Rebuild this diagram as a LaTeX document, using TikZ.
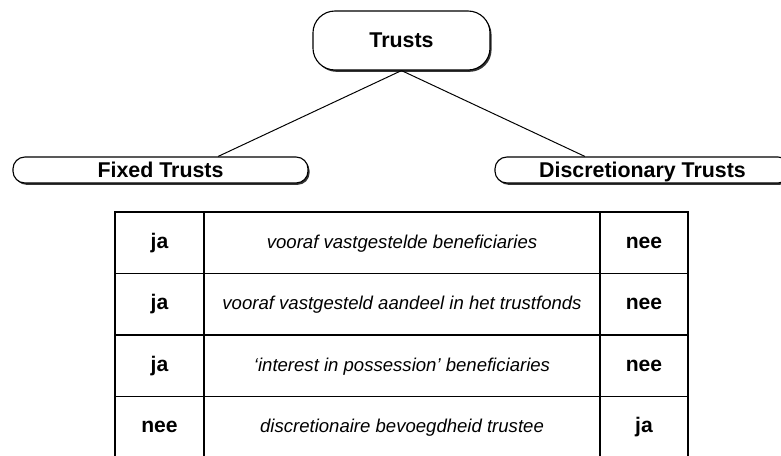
\documentclass[tikz,border=0pt]{standalone}
\usepackage{fontspec}
\setmainfont{Liberation Sans}
\usetikzlibrary{shadows}
\tikzset{
  trustbox/.style={draw, fill=white, line width=0.8pt, inner sep=0pt,
    rounded corners=#1, font=\bfseries\fontsize{15.2}{18}\selectfont,
    text height=12.5pt, text depth=2pt,
    drop shadow={shadow xshift=1.1pt, shadow yshift=-1.3pt, fill=black!80, opacity=1}},
  cell/.style={draw, line width=0.9pt, inner sep=0pt, minimum width=#1,
    minimum height=1.5375cm, text height=10.5pt, text depth=3pt},
  yesno/.style={font=\bfseries\fontsize{15}{18}\selectfont},
  feature/.style={font=\itshape\fontsize{13.2}{16}\selectfont},
  branch/.style={line width=0.7pt}
}
\begin{document}
\begin{tikzpicture}[x=0.025cm, y=-0.025cm]
\useasboundingbox (0,0) rectangle (781,455);
\node[trustbox=0.55cm, minimum width=4.425cm, minimum height=1.475cm] (trusts) at (401.5,40.5) {Trusts};
\node[trustbox=0.3cm, minimum width=7.375cm, minimum height=0.65cm] (fixed) at (160.5,170) {Fixed Trusts};
\node[trustbox=0.3cm, minimum width=7.375cm, minimum height=0.65cm] (discr) at (642.5,170) {Discretionary Trusts};
\draw[branch] (trusts.south) -- ([xshift=1.44cm]fixed.north);
\draw[branch] (trusts.south) -- ([xshift=-1.44cm]discr.north);
\foreach \i/\l/\m/\r in {1/ja/{vooraf vastgestelde beneficiaries}/nee,
    2/ja/{vooraf vastgesteld aandeel in het trustfonds}/nee,
    3/ja/{‘interest in possession’ beneficiaries}/nee,
    4/nee/{discretionaire bevoegdheid trustee}/ja} {
  \node[cell=2.225cm, yesno] (l\i) at (159.5,181.25+61.5*\i) {\l};
  \node[cell=9.9cm, feature] (m\i) at (402,181.25+61.5*\i) {\m};
  \node[cell=2.2cm, yesno] (r\i) at (644,181.25+61.5*\i) {\r};
}
\end{tikzpicture}
\end{document}
